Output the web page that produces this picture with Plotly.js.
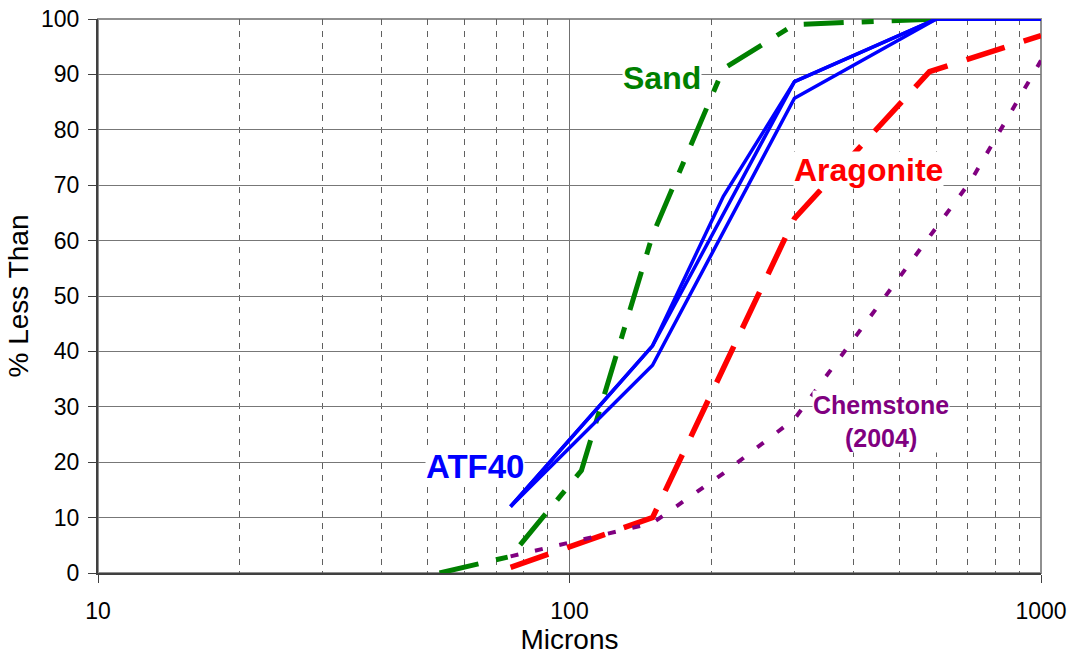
<!DOCTYPE html>
<html>
<head>
<meta charset="utf-8">
<script src="https://cdn.plot.ly/plotly-3.0.1.min.js"></script>
<style>
html,body{margin:0;padding:0;background:#fff;}
#chart{width:1073px;height:656px;}
</style>
</head>
<body>
<div id="chart"></div>
<script>
// ---- data ----
const atf40SizesA = [75, 150, 212, 300, 600, 1000];
const atf40A      = [12, 41, 68, 88.7, 100, 100];
const atf40SizesB = [75, 150, 300, 600, 1000];
const atf40B      = [12, 41, 88.7, 100, 100];
const atf40SizesC = [75, 150, 300, 600, 1000];
const atf40C      = [12, 37.5, 85.7, 100, 100];

const sandSizes = [53, 75, 106, 150, 212, 300, 600];
const sandPct   = [0, 3, 18.5, 61, 91, 99, 100];

const aragSizes = [75, 150, 300, 580, 1000];
const aragPct   = [1, 10, 64, 90.5, 97];

const chemSizes = [75, 150, 212, 300, 710, 1000];
const chemPct   = [3, 9, 18, 27.8, 70.8, 92.5];

const xMajorTicks = [10, 100, 1000];
const xTickLabels = ['10', '100', '1000'];
const xMinorTicks = [20, 30, 40, 50, 60, 70, 80, 90, 200, 300, 400, 500, 600, 700, 800, 900];
const yTicks = [0, 10, 20, 30, 40, 50, 60, 70, 80, 90, 100];

const labels = [
  {text: 'Sand', color: '#008000', size: 32, x: 0.5985, y: 0.894},
  {text: 'Aragonite', color: '#FF0000', size: 32, x: 0.817, y: 0.727},
  {text: 'ATF40', color: '#0000FF', size: 33, x: 0.3995, y: 0.193},
  {text: 'Chemstone<br>(2004)', color: '#800080', size: 25, x: 0.83, y: 0.273}
];

const blue = '#0000FF';
const traces = [
  {x: sandSizes, y: sandPct, mode: 'lines', line: {color: '#008000', width: 5, dash: '40px,18px,12px,18px'}},
  {x: aragSizes, y: aragPct, mode: 'lines', line: {color: '#FF0000', width: 5.5, dash: '40px,20px'}},
  {x: chemSizes, y: chemPct, mode: 'lines', line: {color: '#800080', width: 4, dash: '8px,17px'}},
  {x: atf40SizesC, y: atf40C, mode: 'lines', line: {color: blue, width: 3.5}},
  {x: atf40SizesB, y: atf40B, mode: 'lines', line: {color: blue, width: 3.5}},
  {x: atf40SizesA, y: atf40A, mode: 'lines', line: {color: blue, width: 3.5}}
];
traces.forEach(t => { t.hoverinfo = 'skip'; t.showlegend = false; });

const layout = {
  width: 1073, height: 656,
  margin: {l: 98, r: 32, t: 19, b: 83},
  paper_bgcolor: '#ffffff', plot_bgcolor: '#ffffff',
  font: {family: 'Liberation Sans, Arial, sans-serif', color: '#000'},
  showlegend: false,
  xaxis: {
    type: 'log', range: [1, 3],
    tickmode: 'array', tickvals: xMajorTicks, ticktext: xTickLabels,
    ticks: 'outside', ticklen: 8, tickcolor: '#404040', tickwidth: 1,
    tickfont: {size: 23, color: '#000'}, ticklabelstandoff: 8,
    showgrid: true, gridcolor: '#707070', gridwidth: 1,
    minor: {tickmode: 'array', tickvals: xMinorTicks, showgrid: true, gridcolor: '#606060', gridwidth: 1, griddash: '6px,6px', ticks: ''},
    showline: true, linecolor: '#404040', linewidth: 2,
    zeroline: false,
    title: {text: 'Microns', font: {size: 28, color: '#000'}, standoff: 0}
  },
  yaxis: {
    range: [0, 100],
    tickmode: 'array', tickvals: yTicks,
    ticks: 'outside', ticklen: 8, tickcolor: '#404040', tickwidth: 1,
    tickfont: {size: 23, color: '#000'}, ticklabelstandoff: 4,
    showgrid: true, gridcolor: '#777777', gridwidth: 1,
    showline: true, linecolor: '#404040', linewidth: 2,
    zeroline: false,
    title: {text: '% Less Than', font: {size: 28, color: '#000'}, standoff: 4}
  },
  shapes: [
    {type: 'rect', xref: 'paper', yref: 'paper', x0: 0, x1: 1, y0: 0, y1: 1,
     line: {color: '#909090', width: 2}, layer: 'below'}
  ],
  annotations: labels.map(l => ({
    text: '<b>' + l.text + '</b>', xref: 'paper', yref: 'paper', x: l.x, y: l.y,
    showarrow: false, xanchor: 'center', yanchor: 'middle',
    font: {size: l.size, color: l.color, family: 'Liberation Sans, Arial, sans-serif'},
    bgcolor: '#ffffff', borderpad: 0
  }))
};

Plotly.newPlot('chart', traces, layout, {displayModeBar: false, staticPlot: true});
</script>
</body>
</html>
